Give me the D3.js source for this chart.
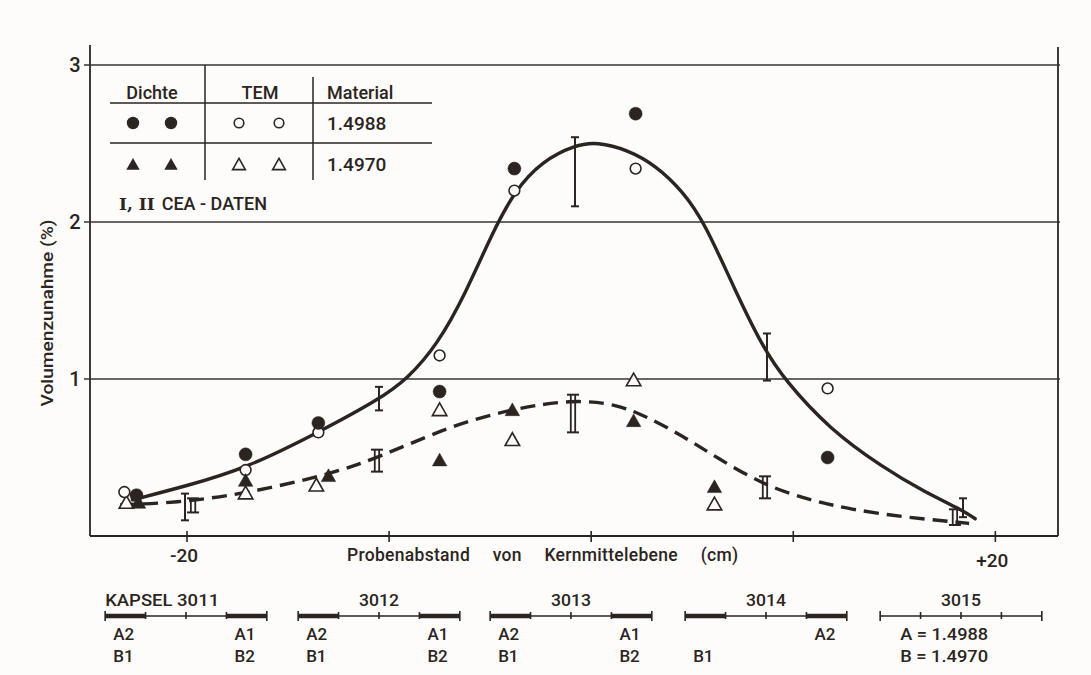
<!DOCTYPE html>
<html>
<head>
<meta charset="utf-8">
<script src="https://cdn.jsdelivr.net/npm/d3@7"></script>
<style>
  html, body { margin: 0; padding: 0; background: #fdfcfa; }
  svg { display: block; }
  text { font-family: Roboto, "DejaVu Sans", sans-serif; font-weight: 500; fill: #2b2421; }
</style>
</head>
<body>
<svg id="chart" width="1091" height="675"></svg>
<script>
// ---- measured values: [distance from core mid-plane (cm), volume increase (%)] ----
const dichte1988 = [[-22.5, 0.26], [-17.1, 0.52], [-13.5, 0.72], [-7.5, 0.92], [-3.8, 2.34], [2.2, 2.69], [11.7, 0.50]];
const tem1988    = [[-23.1, 0.28], [-17.1, 0.42], [-13.5, 0.66], [-7.5, 1.15], [-3.8, 2.20], [2.2, 2.34], [11.7, 0.94]];
const dichte1970 = [[-22.4, 0.21], [-17.1, 0.35], [-13.0, 0.38], [-7.5, 0.48], [-3.9, 0.80], [2.1, 0.73], [6.1, 0.31]];
const tem1970    = [[-23.0, 0.21], [-17.1, 0.27], [-13.6, 0.32], [-7.5, 0.80], [-3.9, 0.61], [2.1, 0.99], [6.1, 0.20]];

// CEA data: [position, low, high]
const ceaI  = [[-20.1, 0.10, 0.27], [-10.5, 0.80, 0.95], [-0.8, 2.10, 2.54], [8.7, 0.99, 1.29], [18.4, 0.12, 0.24]];
const ceaII = [[-19.7, 0.15, 0.24], [-10.6, 0.41, 0.55], [-0.9, 0.66, 0.90], [8.6, 0.24, 0.38], [18.0, 0.07, 0.17]];

// hand-fitted trend curves
const fit1988 = [[-22.7, 0.23], [-20.0, 0.32], [-17.1, 0.43], [-13.5, 0.66], [-10.5, 0.87], [-9.1, 1.0],
                 [-7.6, 1.22], [-6.2, 1.55], [-5.0, 1.9], [-3.8, 2.2], [-2.4, 2.39], [-0.8, 2.49], [0.3, 2.51],
                 [1.8, 2.46], [3.2, 2.36], [4.5, 2.2], [5.6, 2.0], [7.1, 1.57], [8.5, 1.2], [9.6, 0.99],
                 [11.8, 0.68], [14.4, 0.44], [16.5, 0.28], [18.3, 0.17], [19.0, 0.11]];
const fit1970 = [[-23.3, 0.20], [-20.6, 0.21], [-17.1, 0.27], [-13.0, 0.39], [-10.5, 0.50], [-7.0, 0.70],
                 [-3.9, 0.81], [-0.9, 0.87], [1.2, 0.84], [2.6, 0.77], [4.5, 0.64], [6.2, 0.50], [8.6, 0.32],
                 [10.8, 0.23], [12.8, 0.17], [15.5, 0.12], [18.0, 0.09], [18.7, 0.08]];

// axes
const yTickValues = [1, 2, 3];
const xTickValues = [-20, -10, 0, 10, 20];
const xTickLabels = ["-20", "", "", "", "+20"];

// capsule layout below the axis
const capsuleNames   = ["KAPSEL 3011", "3012", "3013", "3014", "3015"];
const capsuleCenters = [-20.05, -10.5, -1.0, 8.65, 18.3];
const capsuleLength  = 8;
const capsuleThick   = [[0, 3], [0, 3], [0, 3], [0, 3], []];
// [segment index, row, text]
const capsuleLabels = [
  [[0, 0, "A2"], [0, 1, "B1"], [3, 0, "A1"], [3, 1, "B2"]],
  [[0, 0, "A2"], [0, 1, "B1"], [3, 0, "A1"], [3, 1, "B2"]],
  [[0, 0, "A2"], [0, 1, "B1"], [3, 0, "A1"], [3, 1, "B2"]],
  [[0, 1, "B1"], [3, 0, "A2"]],
  []
];
const materialKey = ["A = 1.4988", "B = 1.4970"];

// legend
const legendHeaders = ["Dichte", "TEM", "Material"];
const legendMaterials = ["1.4988", "1.4970"];

const ink = "#2b2421";
const paper = "#fdfcfa";
const svg = d3.select("#chart");

const x = d3.scaleLinear().domain([-24.8, 23.1]).range([90, 1058]);
const y = d3.scaleLinear().domain([0, 3]).range([536, 65]);

// frame and grid
const frame = svg.append("g").attr("stroke", ink).attr("fill", "none");
frame.append("line").attr("x1", x.range()[0]).attr("x2", x.range()[0]).attr("y1", 45).attr("y2", y(0)).attr("stroke-width", 1.8);
frame.append("line").attr("x1", x.range()[1]).attr("x2", x.range()[1]).attr("y1", 47).attr("y2", y(0)).attr("stroke-width", 1.8);
frame.append("line").attr("x1", x.range()[0]).attr("x2", x.range()[1]).attr("y1", y(0)).attr("y2", y(0)).attr("stroke-width", 1.8);
frame.selectAll(".grid").data(yTickValues).join("line")
  .attr("x1", x.range()[0] - 6).attr("x2", x.range()[1] + 2)
  .attr("y1", d => y(d)).attr("y2", d => y(d))
  .attr("stroke-width", 1.4).attr("stroke", "#3a3432");

// y axis labels
svg.append("g").selectAll("text").data(yTickValues).join("text")
  .attr("x", 75).attr("y", d => y(d) + 7)
  .attr("text-anchor", "middle").attr("font-size", 20)
  .text(d => d);

// x axis ticks
frame.selectAll(".xt").data(xTickValues).join("line")
  .attr("x1", d => x(d)).attr("x2", d => x(d))
  .attr("y1", y(0) - 5).attr("y2", y(0) + 6).attr("stroke-width", 1.6);
svg.append("g").selectAll("text").data(xTickValues).join("text")
  .attr("x", d => x(d) - 3).attr("y", (d, i) => i === 4 ? 567 : 562)
  .attr("text-anchor", "middle").attr("font-size", 19)
  .text((d, i) => xTickLabels[i]);

// axis titles
svg.append("text").attr("x", 347).attr("y", 561).attr("font-size", 17.5)
  .attr("letter-spacing", 0.3).attr("word-spacing", 18)
  .text("Probenabstand von Kernmittelebene (cm)");
svg.append("text").attr("transform", "translate(53,313) rotate(-90)")
  .attr("text-anchor", "middle").attr("font-size", 17)
  .attr("textLength", 187).attr("lengthAdjust", "spacingAndGlyphs")
  .text("Volumenzunahme (%)");

// trend curves
const line = d3.line().x(d => x(d[0])).y(d => y(d[1])).curve(d3.curveBasis);
svg.append("path").attr("d", line(fit1988)).attr("fill", "none")
  .attr("stroke", ink).attr("stroke-width", 3.4).attr("stroke-linecap", "round");
svg.append("path").attr("d", line(fit1970)).attr("fill", "none")
  .attr("stroke", ink).attr("stroke-width", 3.4).attr("stroke-dasharray", "15 8");

// CEA error bars
const bars = svg.append("g").attr("stroke", ink).attr("fill", "none");
ceaI.forEach(([px, lo, hi]) => {
  const cx = x(px);
  bars.append("line").attr("x1", cx).attr("x2", cx).attr("y1", y(lo)).attr("y2", y(hi)).attr("stroke-width", 2);
  [lo, hi].forEach(v => bars.append("line").attr("x1", cx - 4).attr("x2", cx + 4)
    .attr("y1", y(v)).attr("y2", y(v)).attr("stroke-width", 2));
});
ceaII.forEach(([px, lo, hi]) => {
  const cx = x(px);
  [-2.2, 2.2].forEach(dx => bars.append("line").attr("x1", cx + dx).attr("x2", cx + dx)
    .attr("y1", y(lo)).attr("y2", y(hi)).attr("stroke-width", 1.8));
  [lo, hi].forEach(v => bars.append("line").attr("x1", cx - 6).attr("x2", cx + 6)
    .attr("y1", y(v)).attr("y2", y(v)).attr("stroke-width", 2));
});

// markers
const triPath = s => `M0,${-s * 0.6}L${s * 0.58},${s * 0.42}L${-s * 0.58},${s * 0.42}Z`;
function circles(g, data, filled, r) {
  g.selectAll(null).data(data).join("circle")
    .attr("cx", d => x(d[0])).attr("cy", d => y(d[1])).attr("r", r)
    .attr("fill", filled ? ink : paper).attr("stroke", ink).attr("stroke-width", filled ? 0.5 : 1.6);
}
function triangles(g, data, filled, s) {
  g.selectAll(null).data(data).join("path")
    .attr("transform", d => `translate(${x(d[0])},${y(d[1])})`).attr("d", triPath(s))
    .attr("fill", filled ? ink : paper).attr("stroke", ink).attr("stroke-width", filled ? 0.5 : 1.6)
    .attr("stroke-linejoin", "miter");
}
const marks = svg.append("g");
triangles(marks.append("g"), tem1970, false, 12.5);
circles(marks.append("g"), tem1988, false, 5.4);
triangles(marks.append("g"), dichte1970, true, 12.5);
circles(marks.append("g"), dichte1988, true, 6.5);

// legend table
const lg = svg.append("g");
const lgLines = lg.append("g").attr("stroke", ink).attr("stroke-width", 1.5);
lgLines.append("line").attr("x1", 110).attr("x2", 432).attr("y1", 103).attr("y2", 103);
lgLines.append("line").attr("x1", 110).attr("x2", 432).attr("y1", 143).attr("y2", 143);
lgLines.append("line").attr("x1", 205).attr("x2", 205).attr("y1", y(3)).attr("y2", 180);
lgLines.append("line").attr("x1", 313).attr("x2", 313).attr("y1", 77).attr("y2", 180);
lg.selectAll(".hdr").data(legendHeaders).join("text")
  .attr("x", (d, i) => [152, 260, 327][i]).attr("y", 99)
  .attr("text-anchor", (d, i) => i === 2 ? "start" : "middle")
  .attr("font-size", 18).text(d => d);
lg.selectAll(".mat").data(legendMaterials).join("text")
  .attr("x", 327).attr("y", (d, i) => [130, 171][i])
  .attr("font-size", 19).text(d => d);
[133, 171].forEach(cx => {
  lg.append("circle").attr("cx", cx).attr("cy", 123).attr("r", 6.2).attr("fill", ink);
  lg.append("path").attr("transform", `translate(${cx},165)`).attr("d", triPath(11.5)).attr("fill", ink);
});
[239, 279].forEach(cx => {
  lg.append("circle").attr("cx", cx).attr("cy", 123).attr("r", 4.8).attr("fill", "none").attr("stroke", ink).attr("stroke-width", 1.6);
  lg.append("path").attr("transform", `translate(${cx},165)`).attr("d", triPath(11)).attr("fill", "none").attr("stroke", ink).attr("stroke-width", 1.6);
});
const cea = lg.append("text").attr("x", 119).attr("y", 210).attr("font-size", 18);
cea.append("tspan").attr("font-family", "'DejaVu Serif', serif").attr("font-weight", "bold").attr("font-size", 17).text("I, II");
cea.append("tspan").attr("dx", 7).text("CEA - DATEN");

// capsule diagram
const capY = 616;
const seg = capsuleLength / 4;
const caps = svg.append("g");
capsuleNames.forEach((name, i) => {
  const c = capsuleCenters[i];
  const x0 = c - capsuleLength / 2;
  const g = caps.append("g");
  g.append("line").attr("x1", x(x0)).attr("x2", x(x0 + capsuleLength))
    .attr("y1", capY).attr("y2", capY).attr("stroke", ink).attr("stroke-width", 1.6);
  capsuleThick[i].forEach(k => {
    g.append("line").attr("x1", x(x0 + k * seg)).attr("x2", x(x0 + (k + 1) * seg))
      .attr("y1", capY).attr("y2", capY).attr("stroke", ink).attr("stroke-width", 4.5);
  });
  d3.range(5).forEach(k => {
    const end = k === 0 || k === 4;
    g.append("line").attr("x1", x(x0 + k * seg)).attr("x2", x(x0 + k * seg))
      .attr("y1", capY - (end ? 5 : 4)).attr("y2", capY + (end ? 5 : 3))
      .attr("stroke", ink).attr("stroke-width", 1.6);
  });
  if (i === 0) {
    g.append("text").attr("x", x(x0)).attr("y", 606).attr("font-size", 17)
      .attr("textLength", 114).attr("lengthAdjust", "spacingAndGlyphs").text(name);
  } else {
    g.append("text").attr("x", x(c)).attr("y", 606).attr("text-anchor", "middle")
      .attr("font-size", 17).attr("textLength", 40).attr("lengthAdjust", "spacingAndGlyphs").text(name);
  }
  capsuleLabels[i].forEach(([k, row, t]) => {
    g.append("text").attr("x", x(x0 + k * seg) + 8).attr("y", row === 0 ? 640 : 662)
      .attr("font-size", 17).text(t);
  });
  if (capsuleLabels[i].length === 0) {
    materialKey.forEach((t, r) => {
      g.append("text").attr("x", x(x0) + 20).attr("y", r === 0 ? 640 : 662)
        .attr("font-size", 17).attr("textLength", 88).attr("lengthAdjust", "spacingAndGlyphs").text(t);
    });
  }
});
</script>
</body>
</html>
